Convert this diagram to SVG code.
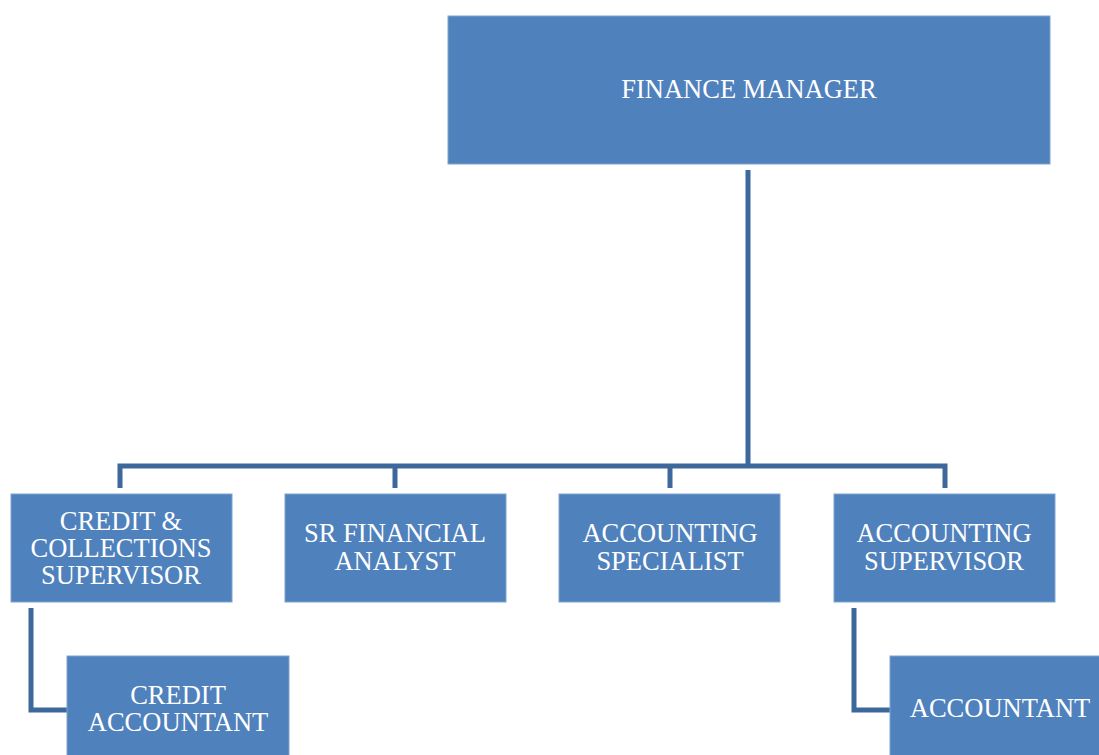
<svg xmlns="http://www.w3.org/2000/svg" width="1099" height="755" viewBox="0 0 1099 755">
<style>
.box{fill:#4F81BD;stroke:#7FA3CF;stroke-width:1}
.t{font-family:"Liberation Serif","Times New Roman",serif;font-size:26.5px;fill:#FFFFFF;text-anchor:middle}
.c{fill:none;stroke:#3D689C;stroke-width:5;stroke-linejoin:miter}
</style>
<rect width="1099" height="755" fill="#FFFFFF"/>
<g id="connectors">
<path class="c" d="M748,170 V466"/>
<path class="c" d="M120,488 V466 H945 V488"/>
<path class="c" d="M395,466 V488"/>
<path class="c" d="M670,466 V488"/>
<path class="c" d="M31,608 V710 H67"/>
<path class="c" d="M854,608 V710 H890"/>
</g>
<g id="finance-manager">
<rect class="box" x="448" y="16" width="602" height="148"/>
<text class="t" x="749" y="98">FINANCE MANAGER</text>
</g>
<g id="credit-collections-supervisor">
<rect class="box" x="11" y="494" width="221" height="108"/>
<text class="t" x="121" y="530">CREDIT &amp;</text>
<text class="t" x="121" y="557">COLLECTIONS</text>
<text class="t" x="121" y="584">SUPERVISOR</text>
</g>
<g id="sr-financial-analyst">
<rect class="box" x="285" y="494" width="221" height="108"/>
<text class="t" x="395" y="542">SR FINANCIAL</text>
<text class="t" x="395" y="570">ANALYST</text>
</g>
<g id="accounting-specialist">
<rect class="box" x="559" y="494" width="221" height="108"/>
<text class="t" x="670" y="542">ACCOUNTING</text>
<text class="t" x="670" y="570">SPECIALIST</text>
</g>
<g id="accounting-supervisor">
<rect class="box" x="834" y="494" width="221" height="108"/>
<text class="t" x="944" y="542">ACCOUNTING</text>
<text class="t" x="944" y="570">SUPERVISOR</text>
</g>
<g id="credit-accountant">
<rect class="box" x="67" y="656" width="222" height="104"/>
<text class="t" x="178" y="704">CREDIT</text>
<text class="t" x="178" y="731">ACCOUNTANT</text>
</g>
<g id="accountant">
<rect class="box" x="890" y="656" width="215" height="104"/>
<text class="t" x="1000" y="717">ACCOUNTANT</text>
</g>
</svg>
